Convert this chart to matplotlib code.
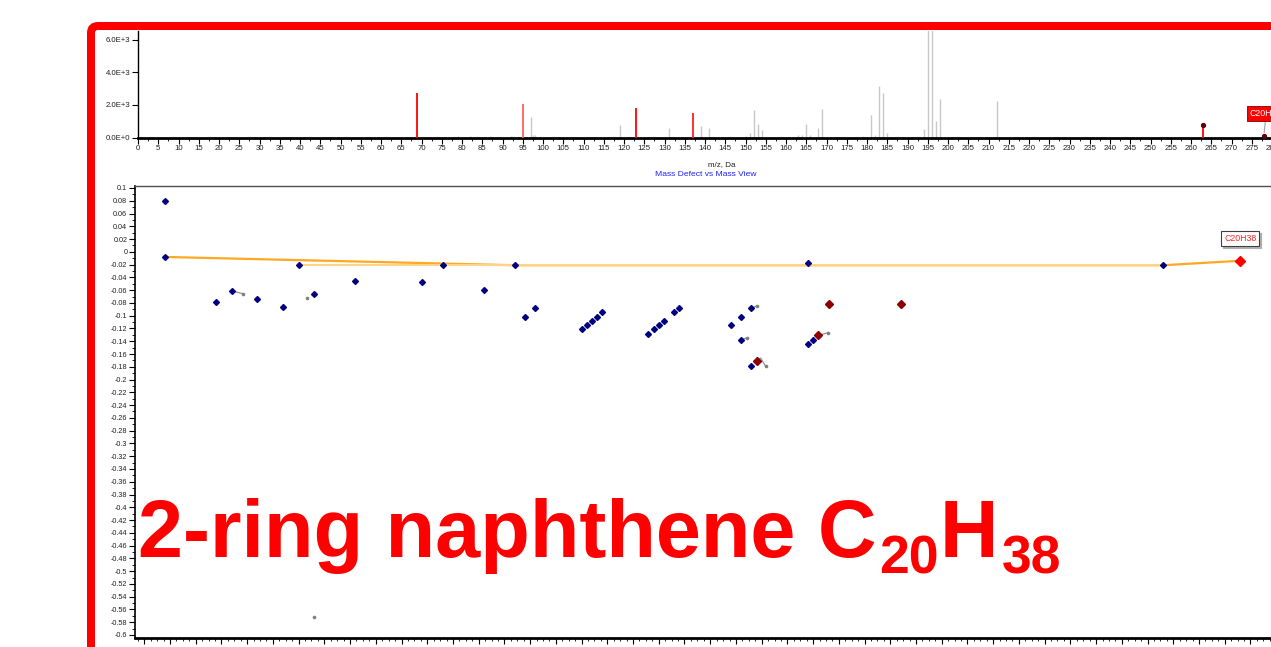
import matplotlib
matplotlib.use('Agg')
import matplotlib.pyplot as plt
from matplotlib.patches import FancyBboxPatch
from matplotlib.transforms import IdentityTransform
from matplotlib.ticker import MultipleLocator, FixedLocator, FuncFormatter

W, H = 1271, 647

# ---------------- data: mass spectrum ----------------
gray_mz = [79, 82, 87, 92, 97, 97.5, 98, 119, 131, 139, 141, 150, 151, 152, 153, 154,
           163, 164, 165, 166, 168, 169, 179, 181, 182, 183, 184, 185, 186,
           194, 195, 196, 197, 198, 212]
gray_int = [120, 120, 100, 100, 1230, 150, 150, 780, 575, 700, 575, 100, 290, 1690, 820, 450,
            160, 160, 820, 160, 575, 1770, 80, 1360, 150, 3150, 2760, 250, 60,
            535, 9000, 9000, 990, 2380, 2260]
red_mz = [69, 95, 123, 137, 263, 278]
red_int = [2760, 2060, 1810, 1480, 760, 120]
red_colors = ['#FF0000', '#FF6060', '#FF0000', '#FF2020', '#FF0000', '#FF0000']
marked_mz = [263, 278]
marked_int = [760, 120]
spec_yticks = [0, 2000, 4000, 6000]
spec_ylabels = ['0.0E+0', '2.0E+3', '4.0E+3', '6.0E+3']

# ---------------- data: mass defect view ----------------
blue_mz = [69, 69, 79, 82, 87, 92, 95, 98, 106, 119, 123, 131, 137, 139, 141,
           150, 151, 152, 153, 154, 163, 164, 165, 166, 168, 169,
           179, 181, 181, 183, 183, 194, 194, 195, 263]
blue_kmd = [0.080, -0.008, -0.079, -0.061, -0.074, -0.087, -0.021, -0.066, -0.045, -0.048,
            -0.021, -0.060, -0.021, -0.102, -0.088,
            -0.121, -0.114, -0.108, -0.102, -0.094, -0.128, -0.121, -0.115, -0.108, -0.094, -0.088,
            -0.115, -0.102, -0.138, -0.088, -0.179, -0.018, -0.144, -0.138, -0.021]
dred_mz = [184, 196, 198, 212]
dred_kmd = [-0.171, -0.131, -0.082, -0.082]
target_mz = [278]
target_kmd = [-0.014]
path_mz = [69, 137, 263, 278]
path_kmd = [-0.008, -0.021, -0.021, -0.014]
path2_mz = [95, 263]
path2_kmd = [-0.021, -0.021]
tails = [
    ([82, 84.1], [-0.061, -0.0655]),
    ([183, 184.0], [-0.088, -0.085]),
    ([181, 182.2], [-0.138, -0.1344]),
    ([184, 184.8, 185.8], [-0.171, -0.1664, -0.1795]),
    ([196, 197.9], [-0.131, -0.1266]),
]
stray_mz = [96.7, 98]
stray_kmd = [-0.073, -0.572]
label = 'C20H38'

FONT = 'Liberation Sans'
plt.rcParams['font.family'] = [FONT, 'DejaVu Sans']

fig = plt.figure(figsize=(W / 100, H / 100), dpi=100)
fig.patch.set_facecolor('white')

def fx(px):
    return px / W

def fy(py):
    return 1 - py / H

# ---------------- top: spectrum ----------------
t_left, t_right, t_top, t_bot = 138, 138 + 290 * 4.05, 31, 137.5
ax1 = fig.add_axes([fx(t_left), fy(t_bot), fx(t_right) - fx(t_left), fy(t_top) - fy(t_bot)])
ax1.set_xlim(0, 290)
ax1.set_ylim(0, 6543)
ax1.vlines(gray_mz, 0, gray_int, colors='#C8C8C8', lw=1.0, zorder=2)
ax1.vlines(red_mz, 0, red_int, colors=red_colors, lw=1.3, zorder=3)
ax1.plot(marked_mz, marked_int, 'o', ms=2.8, color='#600010', zorder=4, clip_on=False)
ax1.annotate(label, xy=(marked_mz[-1], marked_int[-1]), xytext=(-14, 22),
             textcoords='offset pixels', ha='left', va='center', fontsize=6.3, color='white',
             bbox=dict(boxstyle='square,pad=0.35', fc='#FF0000', ec='#800000', lw=0.6),
             arrowprops=dict(arrowstyle='-', color='#A0A0A0', lw=0.8, shrinkA=0, shrinkB=2),
             annotation_clip=False, zorder=6)
for s in ['top', 'right']:
    ax1.spines[s].set_visible(False)
ax1.spines['left'].set_linewidth(1.0)
ax1.spines['bottom'].set_linewidth(2.0)
ax1.xaxis.set_major_locator(MultipleLocator(5))
ax1.xaxis.set_minor_locator(MultipleLocator(2.5))
ax1.yaxis.set_major_locator(FixedLocator(spec_yticks))
ax1.set_yticklabels(spec_ylabels)
ax1.tick_params(axis='both', which='major', labelsize=5.6, length=4, width=0.8, pad=1.5,
                labelcolor='#202020')
ax1.tick_params(axis='both', which='minor', length=2, width=0.6)
ax1.set_xlabel('m/z, Da', fontsize=5.8, labelpad=1.5, color='#202020')
ax1.xaxis.set_label_coords((722 - t_left) / (t_right - t_left), -(161 - t_bot) / (t_bot - t_top))
fig.text(fx(706), fy(174.5), 'Mass Defect vs Mass View', fontsize=6.1, color='#2020FF',
         ha='center', va='center')

# ---------------- bottom: mass defect ----------------
b_left, b_top, b_bot = 135, 186, 638
xmin, xmax = 63.2, 290
b_right = b_left + (xmax - xmin) * 5.145
ax2 = fig.add_axes([fx(b_left), fy(b_bot), fx(b_right) - fx(b_left), fy(b_top) - fy(b_bot)])
ax2.set_xlim(xmin, xmax)
ax2.set_ylim(-0.6047, 0.1031)
ax2.plot(path_mz, path_kmd, color='#FFA820', lw=1.6, zorder=2)
ax2.plot(path2_mz, path2_kmd, color='#FFD488', lw=1.5, zorder=2)
for tm, tk in tails:
    ax2.plot(tm, tk, color='#909090', lw=0.9, zorder=2)
    ax2.plot(tm[-1], tk[-1], 'o', ms=1.6, color='#808080', zorder=2)
ax2.plot(stray_mz, stray_kmd, 'o', ms=1.6, color='#808080', ls='none', zorder=2)
ax2.plot(blue_mz, blue_kmd, 'D', ms=3.0, color='#000080', ls='none', zorder=3)
ax2.plot(dred_mz, dred_kmd, 'D', ms=4.0, color='#8B0000', ls='none', zorder=3)
ax2.plot(target_mz, target_kmd, 'D', ms=5, color='#FF0000', ls='none', zorder=4)
# label box with shadow
ax2.annotate(label, xy=(target_mz[0], target_kmd[0]), xytext=(2, 20), textcoords='offset pixels',
             ha='center', va='center', fontsize=6.3, color='#A0A0A0',
             bbox=dict(boxstyle='square,pad=0.35', fc='#B0B0B0', ec='#B0B0B0', lw=0.8),
             annotation_clip=False, zorder=4)
ax2.annotate(label, xy=(target_mz[0], target_kmd[0]), xytext=(0, 22), textcoords='offset pixels',
             ha='center', va='center', fontsize=6.3, color='#FF2020',
             bbox=dict(boxstyle='square,pad=0.35', fc='white', ec='#404040', lw=0.8),
             annotation_clip=False, zorder=5)
ax2.spines['right'].set_visible(False)
ax2.spines['top'].set_color('#505050')
ax2.spines['top'].set_linewidth(1.0)
ax2.spines['left'].set_linewidth(1.2)
ax2.spines['bottom'].set_linewidth(2.0)
ax2.xaxis.set_major_locator(MultipleLocator(5))
ax2.xaxis.set_minor_locator(MultipleLocator(1.25))
ax2.set_xticklabels([])
yt = [round(0.1 - 0.02 * i, 2) for i in range(36)]
ax2.yaxis.set_major_locator(FixedLocator(yt))
ax2.yaxis.set_minor_locator(MultipleLocator(0.01))

def kfmt(v, pos):
    s = f'{v:.2f}'.rstrip('0').rstrip('.')
    return '0' if s in ('-0', '0', '') else s

ax2.yaxis.set_major_formatter(FuncFormatter(kfmt))
ax2.tick_params(axis='both', which='major', labelsize=5.2, length=4, width=0.8, pad=1.5,
                labelcolor='#202020')
ax2.tick_params(axis='both', which='minor', length=2, width=0.6)

# ---------------- red frame ----------------
frame = FancyBboxPatch((91, -200), 1500, 647 - 26 + 200, boxstyle='round,pad=0,rounding_size=7',
                       transform=IdentityTransform(), fc='none', ec='#FF0000', lw=8 * 0.72,
                       zorder=20)
fig.add_artist(frame)

# ---------------- big title ----------------
renderer = fig.canvas.get_renderer()
pieces = [('2-ring naphthene C', False), ('20', True), ('H', False), ('38', True)]
TFONT = 'Liberation Sans'

def draw_title(size):
    arts = []
    x = 138
    base = 557
    for txt, sub in pieces:
        sz = size * 0.66 if sub else size
        yb = base + (16 if sub else 0)
        t = fig.text(x / W, 1 - yb / H, txt, fontsize=sz, fontweight='bold', color='#FF0000',
                     family=TFONT, ha='left', va='baseline', zorder=15)
        bb = t.get_window_extent(renderer)
        x = bb.x1 + (1 if sub else 3)
        arts.append(t)
    return arts, x

arts, xend = draw_title(56)
scale = (1063 - 138) / (xend - 138)
for a in arts:
    a.remove()
arts, xend = draw_title(56 * scale)

fig.savefig('out.png', dpi=100, facecolor='white')
